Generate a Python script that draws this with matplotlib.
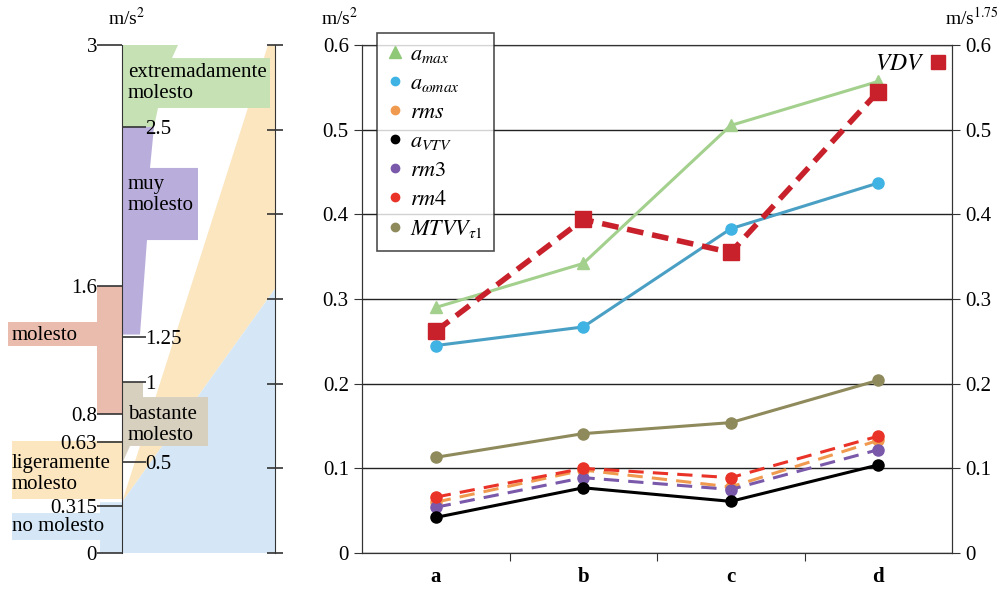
import numpy as np
import matplotlib
matplotlib.use("Agg")
import matplotlib.pyplot as plt
from matplotlib.lines import Line2D
from matplotlib.patches import Polygon

plt.rcParams['font.family'] = ['Liberation Serif', 'DejaVu Serif']
plt.rcParams['mathtext.fontset'] = 'stix'

# data
categories = ['a', 'b', 'c', 'd']
a_max = [0.290, 0.342, 0.505, 0.557]
a_wmax = [0.245, 0.267, 0.383, 0.437]
vdv = [0.262, 0.394, 0.355, 0.545]
mtvv = [0.113, 0.141, 0.154, 0.204]
rm4 = [0.066, 0.100, 0.089, 0.138]
rms = [0.060, 0.098, 0.078, 0.133]
rm3 = [0.054, 0.089, 0.075, 0.122]
a_vtv = [0.042, 0.077, 0.061, 0.104]

# comfort scale (m/s2), left panel; the drawn scale is not linear
scale_values = [0, 0.315, 0.5, 0.63, 0.8, 1, 1.25, 1.6, 2.5, 3]
scale_pos = [0, 0.278, 0.539, 0.655, 0.821, 1.007, 1.276, 1.577, 2.516, 3]
scale_left_ticks = [0, 0.315, 0.63, 0.8, 1.6, 3]
scale_left_labels = ['0', '0.315', '0.63', '0.8', '1.6', '3']
scale_right_ticks = [0.5, 1, 1.25, 2.5]
scale_right_labels = ['0.5', '1', '1.25', '2.5']

# band shapes: (x in panel px, y in drawn scale position)
bands = [
    ('#fbe6bf', [(122, 0.3), (268, 3.0), (275, 3.0), (275, 1.56)]),
    ('#d5e7f6', [(12, 0.077), (100, 0.077), (100, 0), (275, 0), (275, 1.56),
                 (122, 0.3), (100, 0.3), (100, 0.236), (12, 0.236)]),
    ('#fbe6bf', [(12, 0.66), (122, 0.66), (122, 0.32), (12, 0.32)]),
    ('#c6e2b5', [(122, 3), (178, 3), (172, 2.923), (270, 2.923), (270, 2.628),
                 (158, 2.628), (154, 2.516), (122, 2.516)]),
    ('#b9aedb', [(122, 2.516), (154, 2.516), (150, 2.274), (198, 2.274), (198, 1.848),
                 (147, 1.848), (140, 1.29), (122, 1.29)]),
    ('#e9bcad', [(97, 1.577), (122, 1.577), (122, 0.821), (97, 0.821), (97, 1.222),
                 (8, 1.222), (8, 1.364), (97, 1.364)]),
    ('#d8d0bf', [(122, 1.007), (143, 1.007), (143, 0.921), (208, 0.921), (208, 0.632),
                 (130, 0.632), (123, 0.54), (122, 0.54)]),
]
band_texts = [
    (128, 2.776, 'extremadamente\nmolesto'),
    (128, 2.114, 'muy\nmolesto'),
    (12, 1.287, 'molesto'),
    (128, 0.756, 'bastante\nmolesto'),
    (12, 0.467, 'ligeramente\nmolesto'),
    (12, 0.154, 'no molesto'),
]

W, H = 1001, 589
fig = plt.figure(figsize=(W / 100, H / 100), dpi=100)
y0, y1 = 45, 553
bottom = (H - y1) / H
height = (y1 - y0) / H


def to_pos(v):
    return np.interp(v, scale_values, scale_pos)


def to_val(p):
    return np.interp(p, scale_pos, scale_values)


# ---- left panel ----
axl = fig.add_axes([0, bottom, 290 / W, height])
axl.set_xlim(0, 290)
axl.set_ylim(0, 3)
for color, pts in bands:
    axl.add_patch(Polygon(pts, closed=True, facecolor=color, edgecolor='none', zorder=1))
for x, y, s in band_texts:
    axl.text(x, y, s, fontsize=15, ha='left', va='center', linespacing=1.15, zorder=3)

axt = axl.twinx()
axr = axl.twinx()

for side in ['top', 'left', 'bottom']:
    axl.spines[side].set_visible(False)
axl.spines['right'].set_visible(True)
axl.spines['right'].set_position(('data', 275))
axl.spines['right'].set_color('#333333')
axl.set_xticks([])
axl.yaxis.tick_right()
axl.set_yticks(np.arange(0, 3.01, 0.5))
axl.set_yticklabels([])
axl.tick_params(axis='y', direction='inout', length=12, width=1.2, color='#333333')

axt.set_yscale('function', functions=(to_pos, to_val))
axt.set_ylim(0, 3)
for side in ['top', 'right', 'bottom']:
    axt.spines[side].set_visible(False)
axt.spines['left'].set_visible(True)
axt.spines['left'].set_position(('data', 122))
axt.spines['left'].set_color('#333333')
axt.yaxis.tick_left()
axt.set_yticks(scale_left_ticks)
axt.set_yticklabels(scale_left_labels)
axt.yaxis.set_minor_locator(plt.NullLocator())
axt.tick_params(axis='y', direction='out', length=18, width=1.2, pad=0,
                labelsize=15, color='#333333')

axr.set_yscale('function', functions=(to_pos, to_val))
axr.set_ylim(0, 3)
for side in ['top', 'left', 'bottom', 'right']:
    axr.spines[side].set_visible(False)
axr.spines['right'].set_position(('data', 122))
axr.yaxis.tick_right()
axr.set_yticks(scale_right_ticks)
axr.set_yticklabels(scale_right_labels)
axr.yaxis.set_minor_locator(plt.NullLocator())
axr.tick_params(axis='y', direction='out', length=17, width=1.2, pad=0,
                labelsize=15, color='#333333')

fig.text(127 / W, 1 - 18 / H, 'm/s$^2$', fontsize=14, ha='center', va='center')

# ---- main chart ----
ax = fig.add_axes([362 / W, bottom, 590 / W, height])
x = np.arange(len(categories))

ax.plot(x, a_max, color='#a3d08c', lw=2.2, marker='^', ms=8, zorder=5)
ax.plot(x, a_wmax, color='#4aa0c4', lw=2.2, marker='o', ms=8, mfc='#3fb3e3', mec='#3fb3e3', zorder=5)
ax.plot(x, vdv, color='#c8212b', lw=4, ls=(0, (3, 1.6)), marker='s', ms=11, zorder=6)
ax.plot(x, mtvv, color='#8f8a5c', lw=2.2, marker='o', ms=8, zorder=5)
ax.plot(x, rms, color='#f09a50', lw=2.2, ls=(0, (5, 3)), marker='o', ms=8, zorder=5)
ax.plot(x, rm3, color='#7a58aa', lw=2.2, ls=(0, (5, 3)), marker='o', ms=8, zorder=5)
ax.plot(x, rm4, color='#ea3328', lw=2.2, ls=(0, (5, 3)), marker='o', ms=8, zorder=5)
ax.plot(x, a_vtv, color='black', lw=2.2, marker='o', ms=8, zorder=5)

ax.set_xlim(-0.5, 3.5)
ax.set_ylim(0, 0.6)
ax.set_yticks(np.arange(0, 0.61, 0.1))
ax.set_yticklabels(['0', '0.1', '0.2', '0.3', '0.4', '0.5', '0.6'])
ax.yaxis.grid(True, color='#222222', lw=1)
ax.set_axisbelow(True)
ax.set_xticks([0.5, 1.5, 2.5])
ax.set_xticklabels([])
ax.set_xticks(x, minor=True)
ax.set_xticklabels(categories, minor=True, fontweight='bold', fontsize=15)
ax.tick_params(axis='x', which='major', direction='out', length=6, color='#333333')
ax.tick_params(axis='x', which='minor', length=0, pad=10)
ax.tick_params(axis='y', direction='out', length=6, labelsize=15, color='#333333')
for side in ax.spines.values():
    side.set_color('#333333')

ax2 = ax.twinx()
ax2.set_ylim(0, 0.6)
ax2.set_yticks(np.arange(0, 0.61, 0.1))
ax2.set_yticklabels(['0', '0.1', '0.2', '0.3', '0.4', '0.5', '0.6'])
ax2.tick_params(axis='y', direction='out', length=6, labelsize=15, color='#333333')
for side in ax2.spines.values():
    side.set_color('#333333')

fig.text(340 / W, 1 - 18 / H, 'm/s$^2$', fontsize=14, ha='center', va='center')
fig.text(999 / W, 1 - 18 / H, 'm/s$^{1.75}$', fontsize=14, ha='right', va='center')

handles = [
    Line2D([], [], ls='none', marker='^', ms=9, color='#8fc877'),
    Line2D([], [], ls='none', marker='o', ms=6, color='#3fb3e3'),
    Line2D([], [], ls='none', marker='o', ms=6, color='#f09a50'),
    Line2D([], [], ls='none', marker='o', ms=6, color='black'),
    Line2D([], [], ls='none', marker='o', ms=6, color='#7a58aa'),
    Line2D([], [], ls='none', marker='o', ms=6, color='#ea3328'),
    Line2D([], [], ls='none', marker='o', ms=6, color='#8f8a5c'),
]
labels = ['$a_{max}$', r'$a_{\omega max}$', '$rms$', '$a_{VTV}$', '$rm3$', '$rm4$', r'$MTVV_{\tau 1}$']
leg = fig.legend(handles, labels, loc='upper left', bbox_to_anchor=(377 / W, 1 - 33 / H),
                 fontsize=16, frameon=True, fancybox=False, edgecolor='#222222',
                 handlelength=0.6, handletextpad=0.4, labelspacing=0.38,
                 borderpad=0.5, borderaxespad=0)
leg.get_frame().set_linewidth(1.2)

vleg = fig.legend([Line2D([], [], ls='none', marker='s', ms=10, color='#c8212b')], ['$VDV$'],
                  loc='upper right', bbox_to_anchor=(955 / W, 1 - 44 / H),
                  fontsize=17, frameon=False, markerfirst=False,
                  handlelength=0.6, handletextpad=0.3, borderaxespad=0)

fig.savefig('out.png', dpi=100)
